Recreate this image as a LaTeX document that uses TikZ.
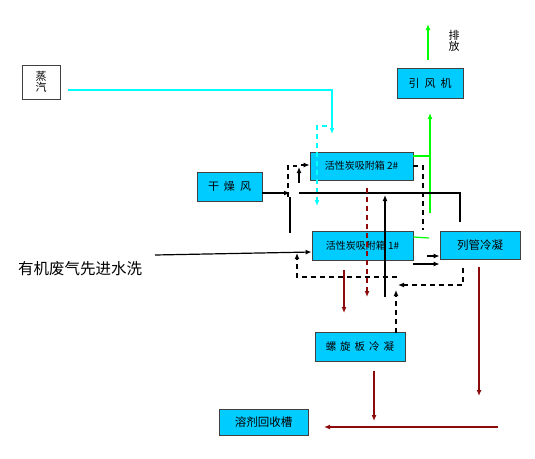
\documentclass[tikz,border=0pt]{standalone}
\usepackage{fontspec}
\newfontfamily\cjk{Noto Sans CJK SC}
\usetikzlibrary{arrows.meta}
\definecolor{boxfill}{RGB}{0,204,255}
\definecolor{boxedge}{RGB}{64,64,64}
\definecolor{steamc}{RGB}{0,255,255}
\definecolor{greenc}{RGB}{0,255,0}
\definecolor{redc}{RGB}{140,10,10}
\begin{document}
\begin{tikzpicture}[x=1pt,y=-1pt,
  box/.style={draw=boxedge, fill=boxfill, line width=0.8pt, inner sep=0pt,
    font=\cjk\fontsize{10}{12}\selectfont},
  tip/.style={-{Latex[length=6pt,width=5pt]}},
  ln/.style={line width=1.2pt},
  dsh/.style={line width=1.2pt, dash pattern=on 5pt off 4pt},
  blk/.style={ln, black},
  cy/.style={ln, steamc},
  gr/.style={ln, greenc},
  rd/.style={ln, redc}]
\useasboundingbox (0,0) rectangle (535,458);
\fill[white] (0,0) rectangle (535,458);

% nodes
\node[box, fill=white, minimum width=38, minimum height=34, align=center,
  font=\cjk\fontsize{11}{11.5}\selectfont] (steam) at (41,82) {蒸\\汽};
\node[box, minimum width=66, minimum height=30, font=\cjk\fontsize{11}{12}\selectfont] (fan) at (430,83) {引\hspace{5pt}风\hspace{5pt}机};
\node[box, minimum width=103, minimum height=28] (a2) at (361.5,166) {活性炭吸附箱 2\#};
\node[box, minimum width=65, minimum height=29, font=\cjk\fontsize{11}{12}\selectfont] (dry) at (229.5,186.5) {干\hspace{5pt}燥\hspace{5pt}风};
\node[box, minimum width=101, minimum height=29] (a1) at (362.5,245.5) {活性炭吸附箱 1\#};
\node[box, minimum width=80, minimum height=28, font=\cjk\fontsize{11.5}{12}\selectfont] (cond) at (480,245) {列管冷凝};
\node[box, minimum width=90, minimum height=29, font=\cjk\fontsize{10.5}{12}\selectfont] (spiral) at (360,346.5) {螺\hspace{4pt}旋\hspace{4pt}板\hspace{4pt}冷\hspace{4pt}凝};
\node[box, minimum width=89, minimum height=26, font=\cjk\fontsize{11.5}{12}\selectfont] (tank) at (263.5,422) {溶剂回收槽};
\node[inner sep=0pt, font=\cjk\fontsize{15.5}{16}\selectfont] (waste) at (80,269) {有机废气先进水洗};
\node[inner sep=0pt, align=center, font=\cjk\fontsize{11}{11.5}\selectfont] (vent) at (454,41) {排\\放};

% steam (cyan)
\draw[cy, tip] (68,90) -- (332,90) -- (332,134);
\draw[cy, dash pattern=on 5pt off 4pt, tip] (327,126) -- (317,126) -- (317,206);

% green
\draw[gr] (a2.east |- 0,156) -- (430,156);
\draw[gr, tip] (430,213) -- (430,113);
\draw[gr] (a1.east |- 0,237) -- (429,238);
\draw[gr, tip] (428,60) -- (428,24);

% black solid
\draw[blk, tip] (dry.east |- 0,193) -- (290,193);
\draw[blk] (290,197) -- (290,233);
\draw[blk] (299,193) -- (460,193) -- (460,222);
\draw[blk, tip] (385,297) -- (385,195);
\draw[blk, tip] (299,183) -- (299,167);
\draw[blk, tip] (301,165) -- (a2.west |- 0,165);
\draw[blk, tip] (155,255) -- (a1.west |- 0,252);
\draw[blk, tip] (427,256) -- (cond.west |- 0,256);
\draw[blk, tip] (a1.east |- 0,264) -- (cond.west |- 0,264);

% black dashed
\draw[dsh] (288,197) -- (288,166) -- (297,166);
\draw[dsh] (a2.east |- 0,166) -- (423,166) -- (423,230);
\draw[dsh, tip] (397,277) -- (297,277) -- (297,253);
\draw[dsh, tip] (463,268) -- (463,285) -- (398,285);
\draw[dsh, tip] (396,333) -- (396,290);

% dark red
\draw[rd, tip] (344,270) -- (344,313);
\draw[rd, dash pattern=on 5pt off 4pt, tip] (367,188) -- (367,297);
\draw[rd, tip] (374,371) -- (374,421);
\draw[rd, tip] (479,267) -- (479,396);
\draw[rd, tip] (498,427) -- (324,427);
\end{tikzpicture}
\end{document}
